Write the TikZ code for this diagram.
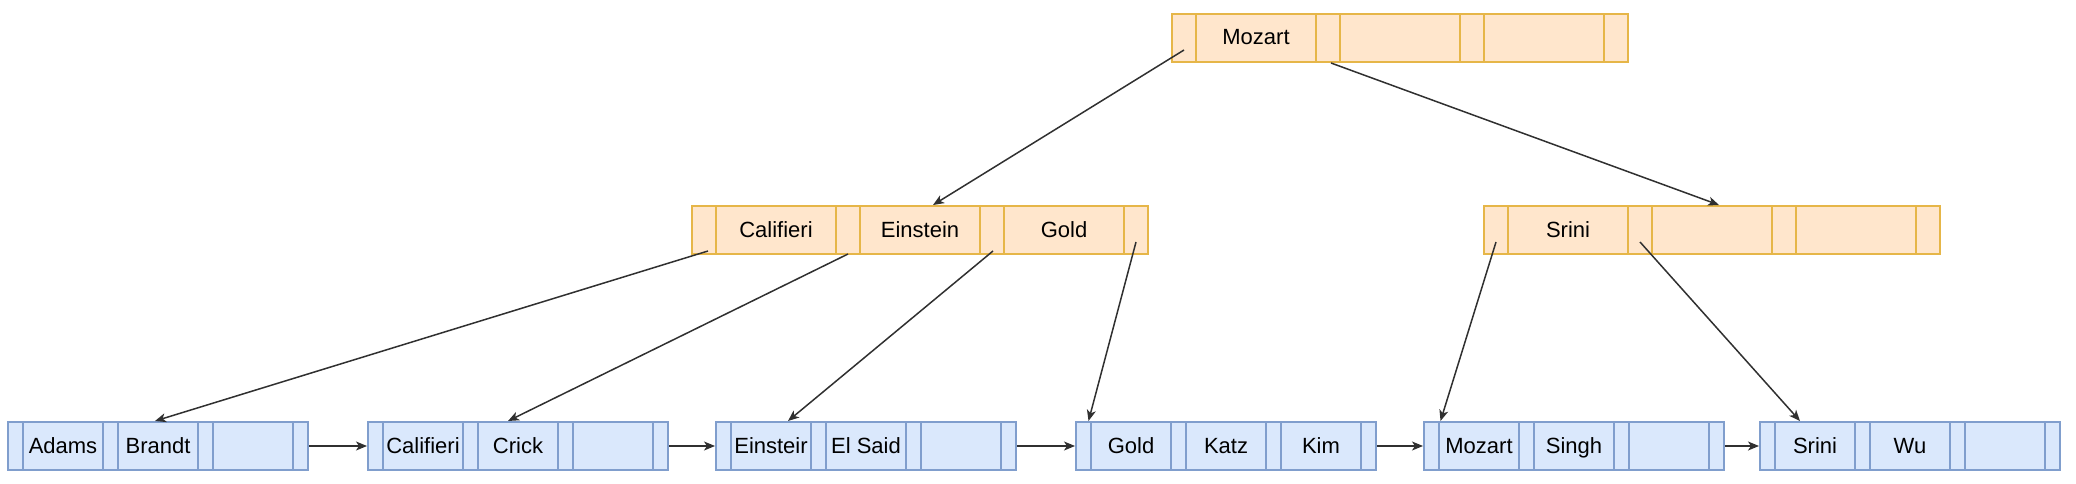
\documentclass[tikz,border=0pt]{standalone}
\usepackage{fontspec}
\setmainfont{Liberation Sans}
\usetikzlibrary{arrows.meta,calc}
\definecolor{ofill}{HTML}{FFE6CC}
\definecolor{ostroke}{RGB}{230,182,72}
\definecolor{bfill}{HTML}{DAE8FC}
\definecolor{bstroke}{RGB}{128,158,205}
\definecolor{linkc}{HTML}{303030}
\begin{document}
\begin{tikzpicture}[x=1pt,y=-1pt,
  cellbase/.style={line width=2pt, minimum height=48pt, inner sep=0pt, anchor=west, font=\fontsize{22}{26}\selectfont, text=black, text height=18pt, text depth=4pt},
  inner/.style={cellbase, draw=ostroke, fill=ofill},
  leaf/.style={cellbase, draw=bstroke, fill=bfill},
  link/.style={draw=linkc, line width=1.5pt, -{Stealth[length=11pt,width=9pt,inset=3pt]}}]
\useasboundingbox (0,0) rectangle (2076,484);
\foreach \nm/\x/\y/\pw/\kw/\st/\ka/\kb/\kc in {
  root/1171/38/24/120/inner/Mozart//,
  IL/691/230/24/120/inner/Califieri/Einstein/Gold,
  IR/1483/230/24/120/inner/Srini//,
  L1/7/446/15/80/leaf/Adams/Brandt/,
  L2/367/446/15/80/leaf/Califieri/Crick/,
  L3/715/446/15/80/leaf/Einsteir/El Said/,
  L4/1075/446/15/80/leaf/Gold/Katz/Kim,
  L5/1423/446/15/80/leaf/Mozart/Singh/,
  L6/1759/446/15/80/leaf/Srini/Wu/}{
  \node[style=\st, minimum width=\pw] (\nm-p0) at (\x,\y) {};
  \node[style=\st, minimum width=\kw] (\nm-k1) at (\x+\pw,\y) {\ka};
  \node[style=\st, minimum width=\pw] (\nm-p1) at (\x+\pw+\kw,\y) {};
  \node[style=\st, minimum width=\kw] (\nm-k2) at (\x+2*\pw+\kw,\y) {\kb};
  \node[style=\st, minimum width=\pw] (\nm-p2) at (\x+2*\pw+2*\kw,\y) {};
  \node[style=\st, minimum width=\kw] (\nm-k3) at (\x+3*\pw+2*\kw,\y) {\kc};
  \node[style=\st, minimum width=\pw] (\nm-p3) at (\x+3*\pw+3*\kw,\y) {};
}
% tree pointers
\draw[link] ($(root-p0.center)+(0,12)$) -- ($(IL-k2.north)+(13,0)$);
\draw[link] ($(root-p1.south)+(3,0)$) -- ($(IR-k2.north)+(7,0)$);
\draw[link] ($(IL-p0.center)+(4,21)$) -- ($(L1-k2.north)+(-3,0)$);
\draw[link] ($(IL-p1.south)+(0,-1)$) -- ($(L2-k2.north)+(-10,0)$);
\draw[link] ($(IL-p2.center)+(1,21)$) -- ($(L3-k1.north)+(17,0)$);
\draw[link] ($(IL-p3.center)+(0,12)$) -- ($(L4-p0.north)+(5,0)$);
\draw[link] ($(IR-p0.center)+(0,12)$) -- ($(L5-p0.north)+(9,0)$);
\draw[link] ($(IR-p1.center)+(0,12)$) -- ($(L6-k1.north)+(-15,0)$);
% leaf chain
\draw[link] (L1-p3.east) -- (L2-p0.west);
\draw[link] (L2-p3.east) -- (L3-p0.west);
\draw[link] (L3-p3.east) -- (L4-p0.west);
\draw[link] (L4-p3.east) -- (L5-p0.west);
\draw[link] (L5-p3.east) -- (L6-p0.west);
\end{tikzpicture}
\end{document}
